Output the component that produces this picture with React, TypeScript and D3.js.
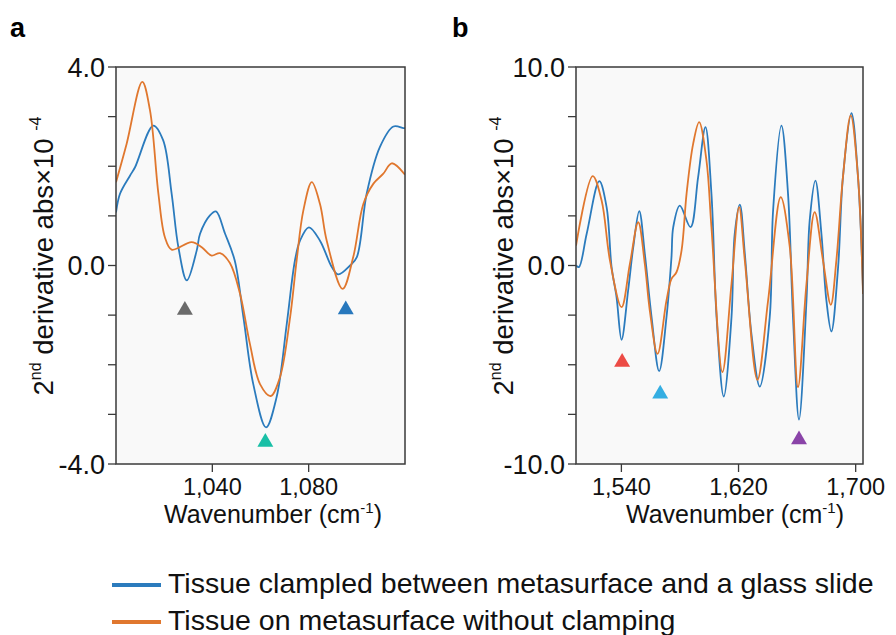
import React from "react";
import * as d3 from "d3";

// ---------- data ----------
const aBlue: [number, number][] = [
  [1000, 1.07], [1001.7, 1.45], [1005.8, 1.81], [1007.9, 1.98], [1015.5, 2.82], [1019.6, 2.52],
  [1023.1, 1.45], [1025.9, 0.37], [1029.4, -0.3], [1033.5, 0.3], [1034.9, 0.64], [1039, 1.01],
  [1041.5, 1.09], [1045.3, 0.64], [1049.3, 0.1], [1052.9, -1.04], [1057, -2.39], [1062.3, -3.26],
  [1066.7, -2.65], [1070.9, -1.18], [1074.3, 0.1], [1076.4, 0.5], [1080.1, 0.77], [1084.7, 0.5],
  [1089.6, -0.03], [1092.3, -0.18], [1097.2, 0.0], [1100, 0.17], [1104.1, 1.45], [1109.6, 2.39],
  [1115.2, 2.8], [1119.3, 2.77], [1120, 2.77],
];
const aOrange: [number, number][] = [
  [1000, 1.68], [1004.4, 2.45], [1010.9, 3.7], [1014.1, 3.13], [1017.6, 1.45], [1020.3, 0.57],
  [1023.1, 0.32], [1031.4, 0.47], [1035.6, 0.37], [1039.7, 0.2], [1043.2, 0.25], [1047.3, 0.05],
  [1051.5, -0.57], [1055.6, -1.58], [1059.8, -2.39], [1064.2, -2.63], [1068.1, -2.25], [1072.3, -1.04],
  [1075, 0.1], [1077.8, 1.11], [1081.3, 1.68], [1084.7, 1.24], [1087.5, 0.5], [1094.1, -0.47],
  [1098.5, 0.17], [1102.7, 1.24], [1106.9, 1.65], [1111, 1.85], [1114.5, 2.06], [1120, 1.83],
];
const bBlue: [number, number][] = [
  [1509, 0.0], [1511, -0.08], [1516.3, 1.6], [1524.9, 4.25], [1529.9, 2.94], [1533.3, -0.08],
  [1536.7, -1.6], [1540.1, -3.74], [1544.6, -1.26], [1548.1, 0.92], [1552.2, 2.74], [1556, 0.59],
  [1560.6, -2.6], [1565.8, -5.32], [1570.8, -2.6], [1574.2, 0.42], [1575.4, 1.93], [1579.9, 3.02],
  [1587.2, 1.93], [1592.4, 4.45], [1597.4, 6.97], [1601.5, 3.61], [1605, -2.6], [1609.9, -6.6],
  [1615.2, -2.6], [1617.4, 1.6], [1620.9, 3.07], [1624.3, 0.59], [1628.8, -3.44], [1634.5, -6.1],
  [1641.3, -2.6], [1643.6, 2.77], [1649.3, 7.05], [1653.8, 3.61], [1657.2, -2.6], [1661.3, -7.76],
  [1666.4, -1.76], [1668.6, 2.27], [1672.5, 4.28], [1676.6, 1.6], [1680, -1.76], [1683.4, -3.32],
  [1688, -0.08], [1691.3, 4.45], [1697.1, 7.67], [1701.6, 4.45], [1705, -1.2],
];
const bOrange: [number, number][] = [
  [1509, 1.0], [1520.4, 4.5], [1526.5, 3.27], [1532.2, 0.25], [1540.1, -2.1], [1545.8, 0.08],
  [1551.5, 2.18], [1556, 0.08], [1559.4, -2.27], [1564.7, -4.45], [1570.8, -1.76], [1574.2, -0.67],
  [1577.6, -0.34], [1581.1, 0.76], [1584.5, 3.61], [1589, 6.13], [1593.1, 7.22], [1598.1, 5.29],
  [1601.5, 1.93], [1609, -5.37], [1615.2, -0.92], [1620.4, 2.94], [1624.3, 0.25], [1632.9, -5.76],
  [1640.2, -1.76], [1648.8, 3.44], [1655, 0.92], [1660.6, -6.13], [1666.4, -0.92], [1672, 2.69],
  [1677.7, 0.25], [1683, -1.98], [1686.8, 0.25], [1691.3, 4.45], [1696.6, 7.56], [1701.6, 4.45],
  [1705, -1.43],
];
const aMarkers = [
  { x: 1028.6, y: -0.9, color: "#6b6b6b" },
  { x: 1062.0, y: -3.56, color: "#19bfa6" },
  { x: 1095.4, y: -0.89, color: "#2878bd" },
];
const bMarkers = [
  { x: 1540.5, y: -4.87, color: "#ec4b45" },
  { x: 1566.5, y: -6.47, color: "#34aee2" },
  { x: 1661.3, y: -8.77, color: "#8a44a8" },
];
const aXTicks = [1040, 1080];
const bXTicks = [1540, 1620, 1700];
const aYTicks = [-4, -3, -2, -1, 0, 1, 2, 3, 4];
const bYTicks = [-10, -7.5, -5, -2.5, 0, 2.5, 5, 7.5, 10];
const aYLabels = [-4, 0, 4];
const bYLabels = [-10, 0, 10];
const legendLabels = [
  "Tissue clampled between metasurface and a glass slide",
  "Tissue on metasurface without clamping",
];

const BLUE = "#2b7bbd";
const ORANGE = "#e0772e";
const FONT = "'Liberation Sans', Arial, Helvetica, sans-serif";

type PanelProps = {
  id: string;
  letter: string;
  letterX: number;
  x0: number;
  x1: number;
  xDomain: [number, number];
  yDomain: [number, number];
  blue: [number, number][];
  orange: [number, number][];
  markers: { x: number; y: number; color: string }[];
  xTicks: number[];
  yTicks: number[];
  yLabels: number[];
  titleX: number;
  yTitleX: number;
};

const TOP = 67;
const BOTTOM = 464;

function Panel(p: PanelProps) {
  const x = d3.scaleLinear().domain(p.xDomain).range([p.x0, p.x1]);
  const y = d3.scaleLinear().domain(p.yDomain).range([BOTTOM, TOP]);
  const line = d3
    .line<[number, number]>()
    .x((d) => x(d[0]))
    .y((d) => y(d[1]))
    .curve(d3.curveCatmullRom.alpha(0.5));
  const fmt = d3.format(",");
  const tri = d3.symbol(d3.symbolTriangle, 110)();
  return (
    <g>
      <defs>
        <clipPath id={"clip" + p.id}>
          <rect x={p.x0} y={TOP} width={p.x1 - p.x0} height={BOTTOM - TOP} />
        </clipPath>
      </defs>
      <text x={p.letterX} y={37} fontSize={27} fontWeight="bold" fontFamily={FONT}>
        {p.letter}
      </text>
      <rect x={p.x0} y={TOP} width={p.x1 - p.x0} height={BOTTOM - TOP} fill="#f9f9f9" />
      <g clipPath={`url(#clip${p.id})`}>
        <path d={line(p.blue) || ""} fill="none" stroke={BLUE} strokeWidth={1.8} />
        <path d={line(p.orange) || ""} fill="none" stroke={ORANGE} strokeWidth={1.8} />
      </g>
      {p.markers.map((m, i) => (
        <path key={i} d={tri || ""} transform={`translate(${x(m.x)},${y(m.y)})`} fill={m.color} />
      ))}
      <rect x={p.x0} y={TOP} width={p.x1 - p.x0} height={BOTTOM - TOP} fill="none" stroke="#3a3a3a" strokeWidth={1.5} />
      {p.yTicks.map((t) => (
        <line key={t} x1={p.x0 - 8} x2={p.x0} y1={y(t)} y2={y(t)} stroke="#3a3a3a" strokeWidth={1.3} />
      ))}
      {p.yLabels.map((t) => (
        <text key={t} x={p.x0 - 11} y={y(t) + 9.5} textAnchor="end" fontSize={27} fontFamily={FONT} fill="#111">
          {t.toFixed(1)}
        </text>
      ))}
      {p.xTicks.map((t) => (
        <g key={t}>
          <line x1={x(t)} x2={x(t)} y1={BOTTOM} y2={BOTTOM + 8} stroke="#3a3a3a" strokeWidth={1.3} />
          <text x={x(t)} y={494.5} textAnchor="middle" fontSize={23.5} fontFamily={FONT} fill="#111">
            {fmt(t)}
          </text>
        </g>
      ))}
      <text x={p.titleX} y={523} textAnchor="middle" fontSize={25} fontFamily={FONT} fill="#111">
        Wavenumber (cm
        <tspan fontSize={15} dy={-10}>-1</tspan>
        <tspan dy={10}>)</tspan>
      </text>
      <text
        transform={`translate(${p.yTitleX},256) rotate(-90)`}
        textAnchor="middle"
        fontSize={27.5}
        fontFamily={FONT}
        fill="#111"
      >
        2<tspan fontSize={16} dy={-12}>nd</tspan>
        <tspan dy={12}> derivative abs×10 </tspan>
        <tspan fontSize={16} dy={-12}>-4</tspan>
      </text>
    </g>
  );
}

export default function App() {
  return (
    <svg
      width={896}
      height={635}
      style={{ position: "absolute", left: 0, top: 0, background: "#fff" }}
    >
      <rect width={896} height={635} fill="#fff" />
      <Panel
        id="a"
        letter="a"
        letterX={10}
        x0={116}
        x1={405}
        xDomain={[1000, 1120]}
        yDomain={[-4, 4]}
        blue={aBlue}
        orange={aOrange}
        markers={aMarkers}
        xTicks={aXTicks}
        yTicks={aYTicks}
        yLabels={aYLabels}
        titleX={273}
        yTitleX={53}
      />
      <Panel
        id="b"
        letter="b"
        letterX={452}
        x0={576}
        x1={863}
        xDomain={[1509, 1705]}
        yDomain={[-10, 10]}
        blue={bBlue}
        orange={bOrange}
        markers={bMarkers}
        xTicks={bXTicks}
        yTicks={bYTicks}
        yLabels={bYLabels}
        titleX={735}
        yTitleX={513}
      />
      {legendLabels.map((l, i) => (
        <g key={i}>
          <line x1={112} x2={161} y1={585 + i * 37} y2={585 + i * 37} stroke={i === 0 ? BLUE : ORANGE} strokeWidth={4} />
          <text x={168} y={593 + i * 36.5} fontSize={28.5} fontFamily={FONT} fill="#111">
            {l}
          </text>
        </g>
      ))}
    </svg>
  );
}
